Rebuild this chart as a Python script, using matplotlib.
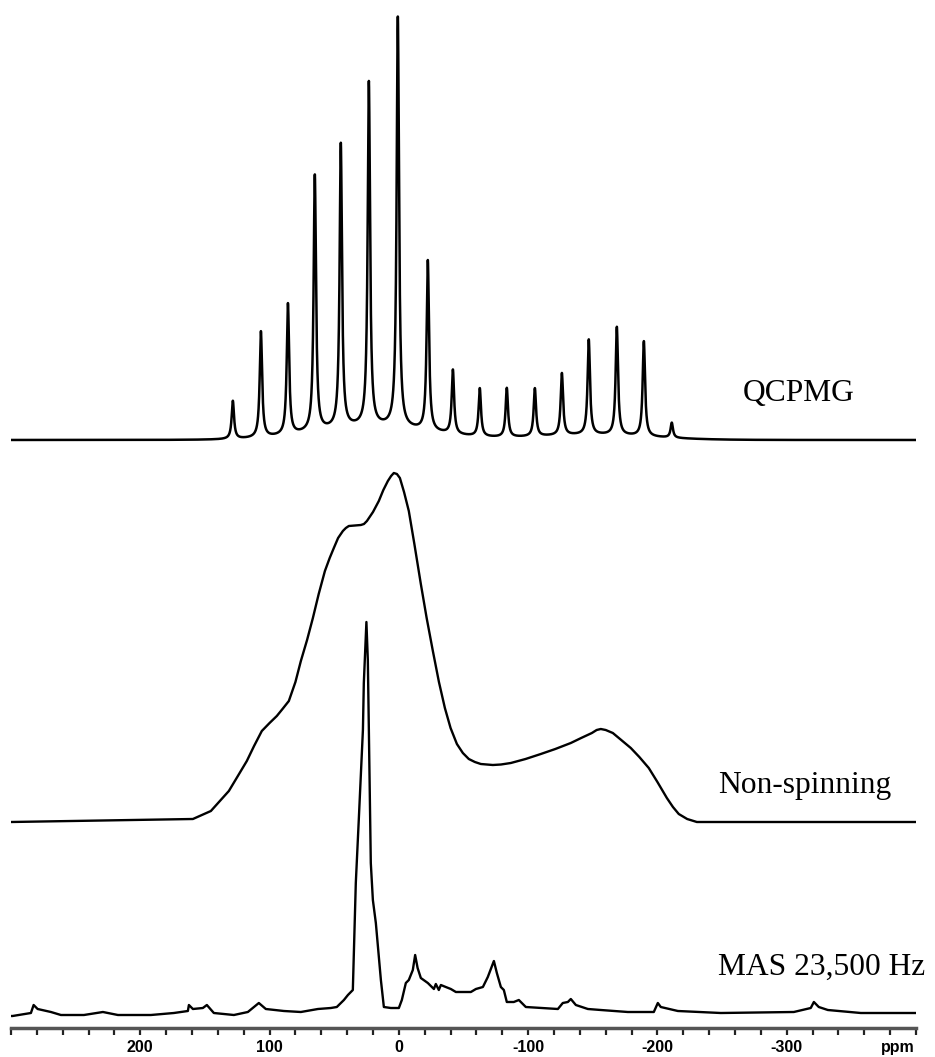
import numpy as np
import matplotlib
matplotlib.use("Agg")
import matplotlib.pyplot as plt
from matplotlib.ticker import FixedLocator, MultipleLocator

# ---------------- data ----------------
# QCPMG spikelets: position (ppm), height (arb. units)
qcpmg_pos = [128.4, 106.7, 85.8, 65.0, 44.9, 23.2, 0.8, -22.4, -41.8, -62.6,
             -83.5, -105.2, -126.1, -146.9, -168.6, -189.5, -211.1]
qcpmg_height = [38, 106, 131, 256, 284, 344, 410, 170, 64, 48,
                49, 48, 62, 95, 108, 95, 15]
qcpmg_width = 1.1  # half width (ppm)
# broad underlying components of the QCPMG spectrum
qcpmg_broad_pos = [20.0, -150.0]
qcpmg_broad_height = [13.0, 5.0]
qcpmg_broad_width = [45.0, 45.0]

# Non-spinning static spectrum: (ppm, intensity)
static_ppm = [300, 159.3, 145.4, 131.5, 125, 117.6, 112, 106, 100, 94.4, 90,
              85.1, 80, 75.8, 71, 66.5, 62, 57.2, 53.5, 50.3, 47, 43.3, 41,
              38.7, 34, 29.4, 27, 24.7, 20, 15.5, 12, 8.5, 6, 3.9, 1.5, -0.8,
              -4, -7.7, -12, -17, -21.5, -26.3, -31, -35.6, -40, -44.9, -49.5,
              -54.1, -58.8, -63.4, -68, -72.7, -79, -86.6, -98, -109.8, -121,
              -133, -141, -149.3, -153, -156.2, -160, -165.5, -172, -179.4,
              -186, -193.3, -200, -207.3, -212, -216.5, -223, -230.5, -400]
static_int = [0, 3, 11, 31, 45, 61, 76, 91, 99, 106, 113,
              121, 140, 161, 182, 204, 228, 251, 264, 274, 284, 291, 294,
              296, 296.5, 297, 298, 301, 310, 321, 332, 341, 346, 349, 348, 344,
              330, 311, 278, 238, 204, 171, 140, 114, 94, 78, 69,
              63, 60, 58, 57.5, 57, 57.5, 59, 63, 68, 73,
              79, 84, 89, 92, 93, 92, 89, 82, 74,
              65, 54, 40, 24, 15, 8, 3, 0, 0]

# MAS 23,500 Hz spectrum: (ppm, intensity)
mas_ppm = [300, 298.8, 284.6, 282.5, 279.4, 269.1, 261.4, 243.6, 228.9, 217.3,
           191.8, 174.0, 163.2, 162.4, 159.3, 151.6, 148.5, 143.1, 127.6,
           116.8, 108.3, 102.9, 88.9, 75.8, 62.6, 52.6, 48.0, 42.5, 39.4,
           35.6, 33.3, 30.9, 27.8, 27.1, 25.1, 24.0, 23.2, 21.7, 20.1, 17.8,
           13.9, 11.6, 6.2, 0.0, -2.3, -5.4, -7.7, -10.8, -12.6, -14.5,
           -17.0, -22.4, -27.1, -28.6, -30.9, -32.5, -36.3, -40.2, -44.1,
           -55.7, -59.6, -65.0, -68.8, -73.5, -75.8, -78.9, -81.2, -83.5,
           -88.9, -92.8, -98.2, -123.0, -126.8, -130.7, -133.0, -136.9,
           -146.2, -156.2, -177.1, -197.2, -200.3, -202.6, -215.8, -249.0,
           -305.5, -318.6, -321.0, -324.8, -331.8, -357.3, -400]
mas_int = [-3, -3, 0, 8, 4, 1, -2, -2, 1, -2,
           -2, 0, 2, 8, 4, 5, 8, 0, -2,
           1, 10, 4, 2, 1, 4, 5, 6, 13, 18,
           23, 130, 196, 283, 330, 391, 353, 283, 150, 113, 90,
           33, 6, 5, 5, 13, 30, 33, 43, 58, 45,
           35, 30, 24, 29, 23, 28, 26, 24, 21,
           21, 24, 26, 36, 52, 40, 26, 23, 11,
           11, 13, 6, 4, 10, 11, 14, 8,
           4, 3, 1, 1, 10, 6, 2, 0,
           1, 5, 11, 6, 3, 0, 0]

# vertical offsets of the three traces
offset_qcpmg = 617
offset_static = 235
offset_mas = 44

labels = ["QCPMG", "Non-spinning", "MAS 23,500 Hz"]
major_ticks = [200, 100, 0, -100, -200, -300]
major_labels = ["200", "100", "0", "-100", "-200", "-300"]

# ---------------- figure ----------------
W, H = 935, 1057
fig = plt.figure(figsize=(W / 100, H / 100), dpi=100)
ax = fig.add_axes([11 / W, 0, (916 - 11) / W, 1])
ax.set_xlim(300, -400)
ax.set_ylim(0, H)

# QCPMG trace
x = np.linspace(300, -400, 14001)
y = np.zeros_like(x)
for p, h in zip(qcpmg_pos, qcpmg_height):
    y += h / (1 + ((x - p) / qcpmg_width) ** 2)
for p, h, w in zip(qcpmg_broad_pos, qcpmg_broad_height, qcpmg_broad_width):
    y += h * np.exp(-0.5 * ((x - p) / w) ** 2)
ax.plot(x, y + offset_qcpmg, color="black", lw=1.8, solid_joinstyle="round")

ax.plot(static_ppm, np.array(static_int) + offset_static, color="black",
        lw=1.7, solid_joinstyle="round")
ax.plot(mas_ppm, np.array(mas_int) + offset_mas, color="black", lw=1.7,
        solid_joinstyle="round")

# labels
font = dict(family="Liberation Serif", size=22.7, color="black", va="baseline", ha="left")
fig.text(743 / W, 1 - 401 / H, labels[0], **font)
fig.text(718 / W, 1 - 793 / H, labels[1], **font)
fig.text(718 / W, 1 - 975 / H, labels[2], **font)

# axis
for s in ["left", "right", "top"]:
    ax.spines[s].set_visible(False)
ax.spines["bottom"].set_position(("data", 29))
ax.spines["bottom"].set_color("#555555")
ax.spines["bottom"].set_linewidth(2.5)
ax.yaxis.set_visible(False)
ax.xaxis.set_major_locator(FixedLocator(major_ticks))
ax.set_xticklabels(major_labels)
ax.xaxis.set_minor_locator(MultipleLocator(20))
ax.tick_params(axis="x", which="both", direction="out", length=5, width=1.6,
               color="#222222", pad=4)
for lab in ax.get_xticklabels():
    lab.set_fontfamily("Liberation Sans")
    lab.set_fontweight("bold")
    lab.set_fontsize(11.5)
ax.text(-399, 29 - 12, "ppm", ha="right", va="top", family="Liberation Sans",
        fontweight="bold", fontsize=11.5)

fig.savefig("out.png", dpi=100)
